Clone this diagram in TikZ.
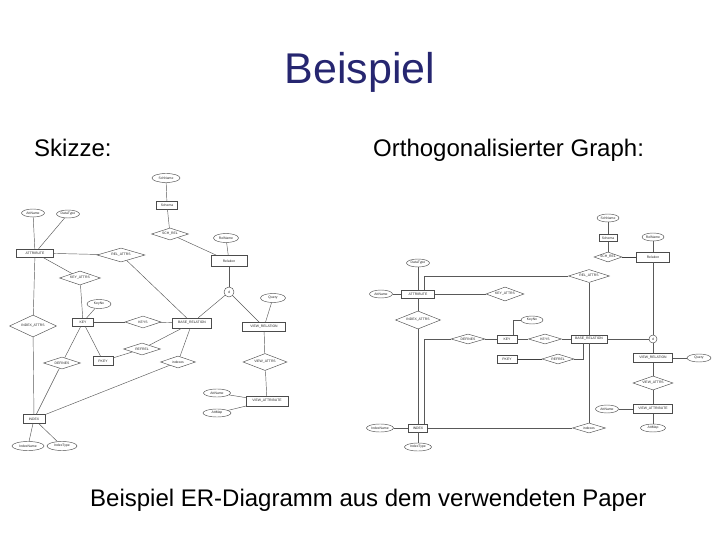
\documentclass[tikz,border=0pt]{standalone}
\usepackage{fontspec}
\setmainfont{Liberation Sans}
\usetikzlibrary{shapes.geometric}
\definecolor{titleblue}{RGB}{38,38,112}
\tikzset{
  erfont/.style={font=\fontsize{3.4}{3.4}\selectfont, text=black!85},
  ent/.style={draw=black!70, erfont, rectangle, inner sep=0.4pt, line width=0.45pt},
  went/.style={ent, line width=0.9pt},
  att/.style={draw=black!70, erfont, ellipse, inner sep=0pt, line width=0.45pt},
  rel/.style={draw=black!70, erfont, diamond, aspect=3, inner sep=0pt, line width=0.45pt},
  isa/.style={draw=black!70, erfont, circle, inner sep=0pt, line width=0.45pt},
  lnk/.style={draw=black!65, line width=0.45pt},
  lnkb/.style={draw=black!75, line width=1pt},
  txt/.style={font=\fontsize{24}{24}\selectfont, text=black, inner sep=0pt},
}
\begin{document}
\begin{tikzpicture}[x=1pt,y=-1pt]
\useasboundingbox (0,0) rectangle (720,540);
\node[font=\fontsize{43}{43}\selectfont, text=titleblue, anchor=base, inner sep=0pt] (title) at (360,84) {Beispiel};
\node[txt, anchor=base west] (skizze) at (34,157) {Skizze:};
\node[txt, anchor=base west] (ortho) at (373,157) {Orthogonalisierter Graph:};
\node[txt, anchor=base west] (caption) at (90,506) {Beispiel ER-Diagramm aus dem verwendeten Paper};

% Skizze
\node[att, minimum width=28, minimum height=9] (lSchN) at (166,178) {SchName};
\node[ent, minimum width=21, minimum height=8] (lSch) at (167,205) {Schema};
\node[rel, minimum width=37, minimum height=12] (lSchRel) at (170,234) {SCH\_REL};
\node[att, minimum width=25, minimum height=9] (lRelN) at (226,238) {RelName};
\node[ent, minimum width=36, minimum height=11] (lRel) at (229,261) {Relation};
\node[isa, minimum size=10] (lD) at (229,292) {d};
\node[att, minimum width=25, minimum height=9] (lQuery) at (273,298) {Query};
\node[ent, minimum width=39, minimum height=10] (lBase) at (192,323) {BASE\_RELATION};
\node[ent, minimum width=43, minimum height=9] (lVRel) at (264,327) {VIEW\_RELATION};
\node[rel, minimum width=44, minimum height=17] (lVAtts) at (265,362) {VIEW\_ATTRS};
\node[ent, minimum width=42, minimum height=10] (lVAttr) at (267,401) {VIEW\_ATTRIBUTE};
\node[att, minimum width=27, minimum height=8] (lVAttN) at (217,393) {AttName};
\node[att, minimum width=28, minimum height=8] (lAttMap) at (217,413) {AttMap};
\node[att, minimum width=23, minimum height=8] (lAttN) at (33,213) {AttName};
\node[att, minimum width=23, minimum height=8] (lDT) at (68,214) {DataType};
\node[ent, minimum width=37, minimum height=8] (lAtt) at (35,253) {ATTRIBUTE};
\node[rel, minimum width=48, minimum height=14] (lRelAtt) at (121,255) {REL\_ATTRS};
\node[rel, minimum width=41, minimum height=14] (lKeyAtt) at (80,278) {KEY\_ATTRS};
\node[rel, minimum width=47, minimum height=22] (lIdxAtt) at (33,326) {INDEX\_ATTRS};
\node[att, minimum width=24, minimum height=9] (lKeyNo) at (99,304) {KeyNo};
\node[ent, minimum width=21, minimum height=8] (lKey) at (83,322) {KEY};
\node[rel, minimum width=36, minimum height=12] (lKeys) at (143,322) {KEYS};
\node[ent, minimum width=20, minimum height=9] (lPKey) at (103,361) {PKEY};
\node[rel, minimum width=37, minimum height=12] (lRef) at (142,349) {REFREL};
\node[rel, minimum width=37, minimum height=12] (lDef) at (62,363) {DEFINES};
\node[rel, minimum width=35, minimum height=12] (lIdxs) at (178,362) {indexes};
\node[ent, minimum width=22, minimum height=9] (lIdx) at (34,419) {INDEX};
\node[att, minimum width=32, minimum height=9] (lIdxN) at (28,446) {IndexName};
\node[att, minimum width=30, minimum height=9] (lIdxT) at (62,446) {IndexType};

\draw[lnk] (lSchN)--(lSch); \draw[lnk] (lSch)--(lSchRel); \draw[lnk] (lSchRel)--(lRel);
\draw[lnk] (lRelN)--(lRel); \draw[lnk] (lRel)--(lD);
\draw[lnk] (lD)--(lBase); \draw[lnk] (lD)--(lVRel); \draw[lnk] (lQuery)--(lVRel);
\draw[lnk] (lVRel)--(lVAtts); \draw[lnk] (lVAtts)--(lVAttr);
\draw[lnk] (lVAttN)--(lVAttr); \draw[lnk] (lAttMap)--(lVAttr);
\draw[lnk] (lAttN)--(lAtt); \draw[lnk] (lDT)--(lAtt);
\draw[lnk] (lAtt)--(lRelAtt); \draw[lnk] (lRelAtt)--(lBase);
\draw[lnk] (lAtt)--(lKeyAtt); \draw[lnk] (lKeyAtt)--(lKey);
\draw[lnk] (lAtt)--(lIdxAtt); \draw[lnk] (lIdxAtt)--(lIdx);
\draw[lnk] (lKeyNo)--(lKey); \draw[lnk] (lKey)--(lKeys); \draw[lnk] (lKeys)--(lBase);
\draw[lnk] (lKey)--(lDef); \draw[lnk] (lKey)--(lPKey);
\draw[lnk] (lPKey)--(lRef); \draw[lnk] (lRef)--(lBase);
\draw[lnk] (lDef)--(lIdx); \draw[lnk] (lBase)--(lIdxs); \draw[lnk] (lIdxs)--(lIdx);
\draw[lnk] (lIdx)--(lIdxN); \draw[lnk] (lIdx)--(lIdxT);

% Orthogonalisierter Graph
\node[att, minimum width=22, minimum height=8] (rSchN) at (608,218) {SchName};
\node[ent, minimum width=18, minimum height=7] (rSch) at (608,238) {Schema};
\node[rel, minimum width=28, minimum height=10] (rSchRel) at (608,257) {SCH\_REL};
\node[att, minimum width=22, minimum height=8] (rRelN) at (653,237) {RelName};
\node[ent, minimum width=33, minimum height=10] (rRel) at (653,257) {Relation};
\node[rel, minimum width=41, minimum height=13] (rRelAtt) at (589,276) {REL\_ATTRS};
\node[att, minimum width=23, minimum height=8] (rDT) at (418,263) {DataType};
\node[ent, minimum width=33, minimum height=8] (rAtt) at (418,294) {ATTRIBUTE};
\node[att, minimum width=23, minimum height=8] (rAttN) at (381,294) {AttName};
\node[rel, minimum width=38, minimum height=14] (rKeyAtt) at (505,294) {KEY\_ATTRS};
\node[rel, minimum width=45, minimum height=18] (rIdxAtt) at (418,320) {INDEX\_ATTRS};
\node[att, minimum width=22, minimum height=8] (rKeyNo) at (532,320) {KeyNo};
\node[rel, minimum width=34, minimum height=10] (rDef) at (468,339) {DEFINES};
\node[ent, minimum width=20, minimum height=8] (rKey) at (507,339) {KEY};
\node[rel, minimum width=33, minimum height=10] (rKeys) at (545,339) {KEYS};
\node[ent, minimum width=36, minimum height=8] (rBase) at (589,339) {BASE\_RELATION};
\node[isa, minimum size=8] (rD) at (653,339) {d};
\node[went, minimum width=20, minimum height=8] (rPKey) at (507,359) {PKEY};
\node[rel, minimum width=32, minimum height=10] (rRef) at (558,359) {REFREL};
\node[went, minimum width=39, minimum height=9] (rVRel) at (653,358) {VIEW\_RELATION};
\node[att, minimum width=24, minimum height=8] (rQuery) at (699,358) {Query};
\node[rel, minimum width=40, minimum height=14] (rVAtts) at (653,383) {VIEW\_ATTRS};
\node[went, minimum width=39, minimum height=9] (rVAttr) at (653,409) {VIEW\_ATTRIBUTE};
\node[att, minimum width=23, minimum height=8] (rVAttN) at (607,409) {AttName};
\node[att, minimum width=25, minimum height=8] (rAttMap) at (653,428) {AttMap};
\node[rel, minimum width=33, minimum height=10] (rIdxs) at (589,428) {indexes};
\node[ent, minimum width=19, minimum height=8] (rIdx) at (418,428) {INDEX};
\node[att, minimum width=27, minimum height=8] (rIdxN) at (380,428) {IndexName};
\node[att, minimum width=27, minimum height=8] (rIdxT) at (418,447) {IndexType};

\draw[lnk] (rSchN)--(rSch); \draw[lnk] (rSch)--(rSchRel); \draw[lnkb] (rSchRel)--(rRel);
\draw[lnk] (rRelN)--(rRel); \draw[lnk] (rRel)--(rD);
\draw[lnk] (rRelAtt.west) -| ([xshift=6pt]rAtt.north); \draw[lnk] (rRelAtt)--(rBase);
\draw[lnk] (rDT)--(rAtt); \draw[lnk] (rAttN)--(rAtt); \draw[lnk] (rAtt)--(rKeyAtt);
\draw[lnk] (rAtt)--(rIdxAtt); \draw[lnk] (rIdxAtt)--(rIdx);
\draw[lnk] (rDef.west) -| ([xshift=6pt]rIdx.north);
\draw[lnk] (rDef)--(rKey); \draw[lnk] (rKey)--(rKeys); \draw[lnk] (rKeys)--(rBase); \draw[lnk] (rBase)--(rD);
\draw[lnk] (rKeyNo.west) -| ([xshift=6pt]rKey.north);
\draw[lnkb] (rPKey)--(rRef); \draw[lnk] (rRef.east) -| ([xshift=-6pt]rBase.south);
\draw[lnk] (rD)--(rVRel); \draw[lnk] (rVRel)--(rQuery);
\draw[lnk] (rVRel)--(rVAtts); \draw[lnk] (rVAtts)--(rVAttr); \draw[lnk] (rVAttr)--(rAttMap);
\draw[lnk] (rVAttN)--(rVAttr);
\draw[lnk] (rBase)--(rIdxs); \draw[lnk] (rIdx)--(rIdxs);
\draw[lnk] (rIdxN)--(rIdx); \draw[lnk] (rIdx)--(rIdxT);
\end{tikzpicture}
\end{document}
